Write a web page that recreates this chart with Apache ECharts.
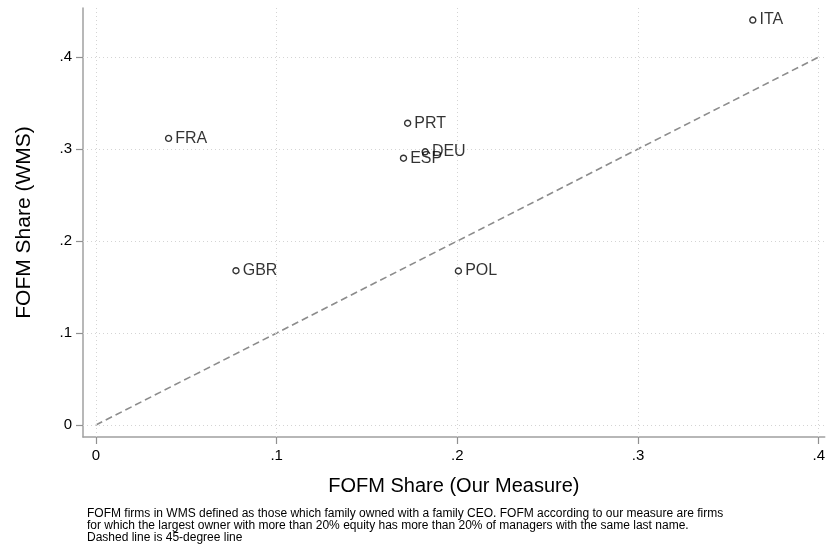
<!DOCTYPE html>
<html><head><meta charset="utf-8">
<script src="https://cdn.jsdelivr.net/npm/echarts@6/dist/echarts.min.js"></script>
<style>html,body{margin:0;padding:0;background:#fff}#c{width:828px;height:550px}</style>
</head><body><div id="c"></div>
<script>
const countries = ["ITA","FRA","PRT","DEU","ESP","GBR","POL"];
const ourMeasure = [0.3635,0.0402,0.1725,0.1822,0.1702,0.0775,0.2006];
const wmsShare  = [0.4402,0.3116,0.328,0.297,0.290,0.1677,0.1674];
const tickValues = [0,0.1,0.2,0.3,0.4];
const tickLabels = ["0",".1",".2",".3",".4"];
const diagonal = [[0,0],[0.4,0.4]];
const noteLines = [
 "FOFM firms in WMS defined as those which family owned with a family CEO. FOFM according to our measure are firms",
 "for which the largest owner with more than 20% equity has more than 20% of managers with the same last name.",
 "Dashed line is 45-degree line"
];

const font = "Liberation Sans, Arial, Helvetica, sans-serif";
const chart = echarts.init(document.getElementById('c'), null, {renderer:'canvas'});
const fmt = v => { const i = tickValues.findIndex(t => Math.abs(t - v) < 1e-6); return i >= 0 ? tickLabels[i] : ''; };
const gridLines = [];
tickValues.forEach(v => { gridLines.push({xAxis: v}); gridLines.push({yAxis: v}); });

chart.setOption({
  animation: false,
  backgroundColor: '#fff',
  grid: {left: 83, right: 0, top: 8, bottom: 113, containLabel: false},
  xAxis: {
    type: 'value', min: -0.00716, max: 0.40331,
    name: 'FOFM Share (Our Measure)', nameLocation: 'middle', nameGap: 39,
    nameTextStyle: {fontFamily: font, fontSize: 20, color: '#000'},
    axisLine: {show: true, onZero: false, lineStyle: {color: '#a0a0a0', width: 1.5}},
    axisTick: {show: true, inside: false, length: 7, lineStyle: {color: '#909090', width: 1.2}, customValues: tickValues},
    axisLabel: {customValues: tickValues, formatter: fmt, fontFamily: font, fontSize: 15, color: '#000', margin: 11},
    splitLine: {show: false}
  },
  yAxis: {
    type: 'value', min: -0.01304, max: 0.45326,
    name: 'FOFM Share (WMS)', nameLocation: 'middle', nameGap: 48,
    nameTextStyle: {fontFamily: font, fontSize: 21, color: '#000'},
    axisLine: {show: true, onZero: false, lineStyle: {color: '#a0a0a0', width: 1.5}},
    axisTick: {show: true, inside: false, length: 7, lineStyle: {color: '#909090', width: 1.2}, customValues: tickValues},
    axisLabel: {customValues: tickValues, formatter: fmt, fontFamily: font, fontSize: 15, color: '#000', margin: 11},
    splitLine: {show: false}
  },
  series: [
    {
      type: 'line', data: diagonal, symbol: 'none', silent: true,
      lineStyle: {color: '#8c8c8c', width: 1.6, type: [7, 4]},
      markLine: {
        silent: true, symbol: 'none', label: {show: false},
        lineStyle: {color: '#d4d4d4', width: 1, type: [1, 3]},
        data: gridLines
      },
      z: 2
    },
    {
      type: 'scatter',
      data: countries.map((c, i) => ({value: [ourMeasure[i], wmsShare[i]], name: c})),
      symbol: 'circle', symbolSize: 6,
      itemStyle: {color: '#fff', borderColor: '#000', borderWidth: 1.4},
      label: {show: true, position: 'right', distance: 3, formatter: p => p.name,
        fontFamily: font, fontSize: 16, color: '#000'},
      z: 5
    }
  ],
  graphic: noteLines.map((t, i) => ({
    type: 'text', left: 87, top: 508 + i * 12,
    style: {text: t, fontFamily: font, fontSize: 12, fill: '#000'}
  }))
});
</script></body></html>
